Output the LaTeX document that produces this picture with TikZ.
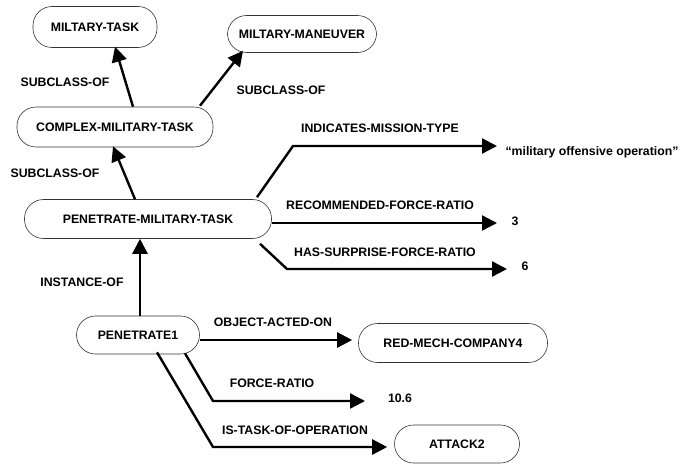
\documentclass[tikz,border=0pt]{standalone}
\usepackage{fontspec}
\setmainfont{Liberation Sans}
\usetikzlibrary{arrows.meta}

\begin{document}
\begin{tikzpicture}[x=1pt,y=-1pt,
    concept/.style={draw=black!80,line width=0.6pt,rounded corners=19pt,inner sep=0pt,
      font=\fontsize{12.3}{14}\selectfont\bfseries},
    val/.style={inner sep=0pt,font=\fontsize{12.3}{14}\selectfont\bfseries},
    rel/.style={inner sep=0pt,font=\fontsize{12.3}{14}\selectfont\bfseries},
    arr/.style={line width=2.4pt,-{Triangle[length=15pt,width=15pt]}}]
  \useasboundingbox (0,0) rectangle (682,463);

  % concepts
  \node[concept,minimum width=124pt,minimum height=41pt] (mtask) at (95,27) {MILTARY-TASK};
  \node[concept,minimum width=149pt,minimum height=37pt] (maneuver) at (302,34) {MILTARY-MANEUVER};
  \node[concept,minimum width=196pt,minimum height=40pt] (complex) at (115,127) {COMPLEX-MILITARY-TASK};
  \node[concept,minimum width=247pt,minimum height=39pt] (pmt) at (148,219) {PENETRATE-MILITARY-TASK};
  \node[concept,minimum width=123pt,minimum height=38pt] (pen1) at (138,335) {PENETRATE1};
  \node[concept,minimum width=189pt,minimum height=39pt] (redmech) at (453,343) {RED-MECH-COMPANY4};
  \node[concept,minimum width=125pt,minimum height=38pt] (attack) at (457,444) {ATTACK2};

  % values
  \node[val] (mission) at (592,152) {``military offensive operation''};
  \node[val] (three) at (515,221) {3};
  \node[val] (six) at (525,266) {6};
  \node[val] (ratio) at (400,398) {10.6};

  % bends and tips
  \coordinate (b1) at (293,146);  \coordinate (t1) at (497,146);
  \coordinate (t2) at (497,223);
  \coordinate (b3) at (287,269);  \coordinate (t3) at (507,269);
  \coordinate (b4) at (213,401);  \coordinate (t4) at (365,401);
  \coordinate (b5) at (213,447);

  \draw[arr] ([xshift=18pt]complex.north) -- ([xshift=20pt,yshift=1pt]mtask.south);
  \draw[arr] ([xshift=85pt,yshift=1pt]complex.north) -- ([xshift=-59pt,yshift=2pt]maneuver.south);
  \draw[arr] ([xshift=-13pt]pmt.north) -- ([xshift=-2pt,yshift=1pt]complex.south);
  \draw[arr] ([xshift=2pt]pen1.north) -- ([xshift=2pt]pen1.north |- pmt.south);
  \draw[arr] ([xshift=109pt,yshift=2pt]pmt.north) -- (b1) -- (t1);
  \draw[arr] ([yshift=-4pt]pmt.east) -- (t2);
  \draw[arr] ([xshift=112pt,yshift=-5pt]pmt.south) -- (b3) -- (t3);
  \draw[arr,shorten >=6pt] ([yshift=-5pt]pen1.east) -- ([yshift=3pt]redmech.west);
  \draw[arr] ([xshift=47pt,yshift=1pt]pen1.south) -- (b4) -- (t4);
  \draw[arr,shorten >=7pt] ([xshift=19pt,yshift=2pt]pen1.south) -- (b5) -- ([yshift=-3pt]attack.west);

  % relation labels
  \node[rel] (sub1) at (65,82) {SUBCLASS-OF};
  \node[rel] (sub2) at (281,90) {SUBCLASS-OF};
  \node[rel] (sub3) at (55,173) {SUBCLASS-OF};
  \node[rel] (indic) at (380,128) {INDICATES-MISSION-TYPE};
  \node[rel] (recom) at (380,205) {RECOMMENDED-FORCE-RATIO};
  \node[rel] (surpr) at (385,252) {HAS-SURPRISE-FORCE-RATIO};
  \node[rel] (inst) at (82,282) {INSTANCE-OF};
  \node[rel] (acted) at (273,322) {OBJECT-ACTED-ON};
  \node[rel] (force) at (272,383) {FORCE-RATIO};
  \node[rel] (istask) at (295,430) {IS-TASK-OF-OPERATION};
\end{tikzpicture}
\end{document}
